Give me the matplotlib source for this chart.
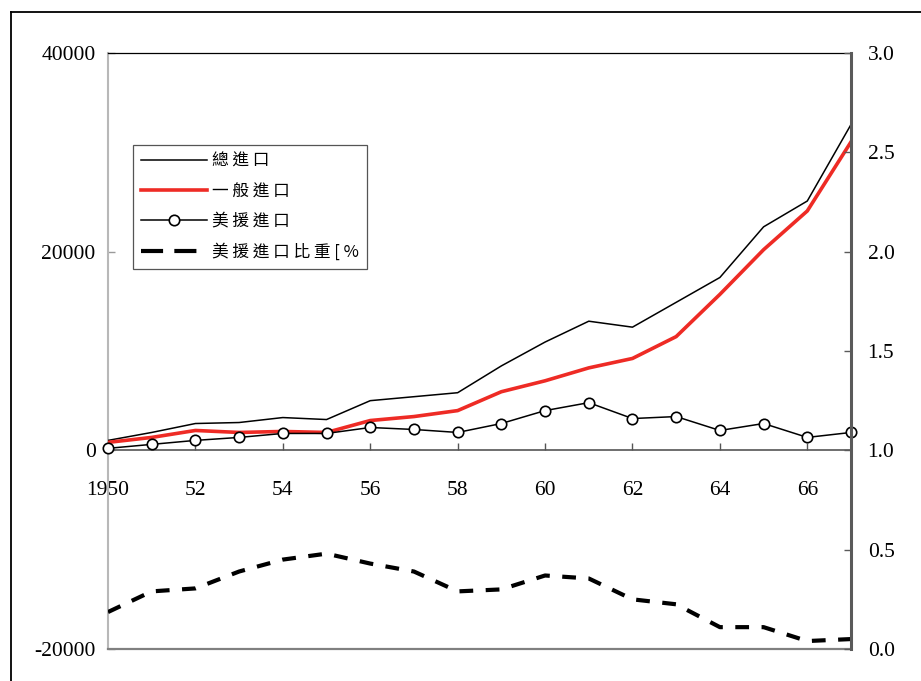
import matplotlib
matplotlib.use("Agg")
import matplotlib.pyplot as plt
from matplotlib.lines import Line2D

plt.rcParams['font.family'] = ['Liberation Serif', 'DejaVu Serif']

# Imports, 1950-1967 (left axis) and US-aid share (right axis)
years = list(range(1950, 1968))
total_imports = [1000, 1800, 2700, 2800, 3300, 3100, 5000, 5400, 5800, 8500,
                 10900, 13000, 12400, 14900, 17400, 22500, 25100, 32800]
general_imports = [800, 1300, 2000, 1800, 1900, 1800, 3000, 3400, 4000, 5900,
                   7000, 8300, 9250, 11450, 15700, 20200, 24100, 31050]
aid_imports = [200, 600, 1000, 1300, 1700, 1700, 2300, 2100, 1800, 2700,
               4000, 4800, 3200, 3400, 2000, 2700, 1300, 1800]
aid_share = [0.186, 0.29, 0.305, 0.39, 0.45, 0.48, 0.43, 0.39, 0.29, 0.30,
             0.37, 0.355, 0.25, 0.225, 0.11, 0.11, 0.04, 0.05]

series_labels = ['總進口', '一般進口', '美援進口', '美援進口比重[%']
xtick_years = list(range(1950, 1967, 2))
xtick_labels = ['1950'] + [str(y % 100) for y in xtick_years[1:]]
left_ticks = [-20000, 0, 20000, 40000]
right_ticks = [0.0, 0.5, 1.0, 1.5, 2.0, 2.5, 3.0]

W, H = 921, 681
fig = plt.figure(figsize=(W / 100, H / 100), dpi=100)
ax = fig.add_axes([108 / W, 1 - 649 / H, (851 - 108) / W, (649 - 53) / H])
ax2 = ax.twinx()

RED = '#ee2b25'
ax.plot(years, total_imports, color='black', lw=1.1, zorder=3)
ax.plot(years, general_imports, color=RED, lw=2.6, zorder=3)
ax.plot(years, aid_imports, color='black', lw=1.1, marker='o', ms=7.5,
        mfc='white', mec='black', mew=1.2, zorder=4, clip_on=False)
ax2.plot(years, aid_share, color='black', lw=3.0, dashes=(3.3, 3.0),
         solid_capstyle='butt', dash_capstyle='butt')

ax.set_xlim(1950, 1967)
ax.set_ylim(-20000, 40000)
ax2.set_ylim(0, 3.0)

# x axis drawn along the zero line
ax.spines['bottom'].set_position(('data', 0))
ax.spines['bottom'].set_color('#555555')
ax.spines['bottom'].set_linewidth(1.2)
ax.spines['left'].set_color('#b8b8b8')
ax.spines['left'].set_linewidth(1.5)
ax.spines['top'].set_color('black')
ax.spines['top'].set_linewidth(0.9)
ax.spines['right'].set_visible(False)
for s in ['left', 'top', 'bottom']:
    ax2.spines[s].set_visible(False)
ax2.spines['right'].set_color('#5a5a5a')
ax2.spines['right'].set_linewidth(2.2)

# lower border of the plot area
ax.add_line(Line2D([0, 1], [0, 0], transform=ax.transAxes, color='#808080',
                   lw=1.6, clip_on=False, zorder=5))

ax.set_xticks(xtick_years)
ax.set_xticklabels(xtick_labels)
ax.tick_params(axis='x', direction='in', length=5, width=1, color='#555555',
               pad=22, labelsize=15.5)
ax.set_yticks(left_ticks)
ax.set_yticklabels([str(v) for v in left_ticks])
ax.tick_params(axis='y', direction='in', length=5, width=1, color='#9a9a9a',
               pad=9, labelsize=15.5)
ax2.set_yticks(right_ticks)
ax2.set_yticklabels([f'{v:.1f}' for v in right_ticks])
ax2.tick_params(axis='y', direction='in', length=5, width=1, color='#5a5a5a',
                pad=12, labelsize=15.5)

# legend
handles = [
    Line2D([], [], color='black', lw=1.1),
    Line2D([], [], color=RED, lw=2.6),
    Line2D([], [], color='black', lw=1.1, marker='o', ms=7.5, mfc='white',
           mec='black', mew=1.2),
    Line2D([], [], color='black', lw=3.0, dashes=(5.3, 2.7)),
]
spaced = [' '.join(list(s)) for s in series_labels]
leg = ax.legend(handles, spaced, loc='upper left',
                bbox_to_anchor=((133 - 108) / 743, (649 - 145) / 596),
                borderaxespad=0, frameon=True, fancybox=False, framealpha=1,
                edgecolor='#555555', handlelength=3.95, handletextpad=0.3,
                borderpad=0.48, labelspacing=0.79, numpoints=1,
                prop={'family': ['Noto Sans CJK TC', 'DejaVu Sans'], 'size': 12})
leg.get_frame().set_linewidth(0.9)
leg.set_zorder(10)

# outer frame of the figure
fig.add_artist(Line2D([11 / W, 1], [1 - 12 / H, 1 - 12 / H], color='black',
                      lw=1.3, transform=fig.transFigure))
fig.add_artist(Line2D([11 / W, 11 / W], [0, 1 - 12 / H], color='black',
                      lw=1.3, transform=fig.transFigure))

fig.savefig('out.png', dpi=100)
